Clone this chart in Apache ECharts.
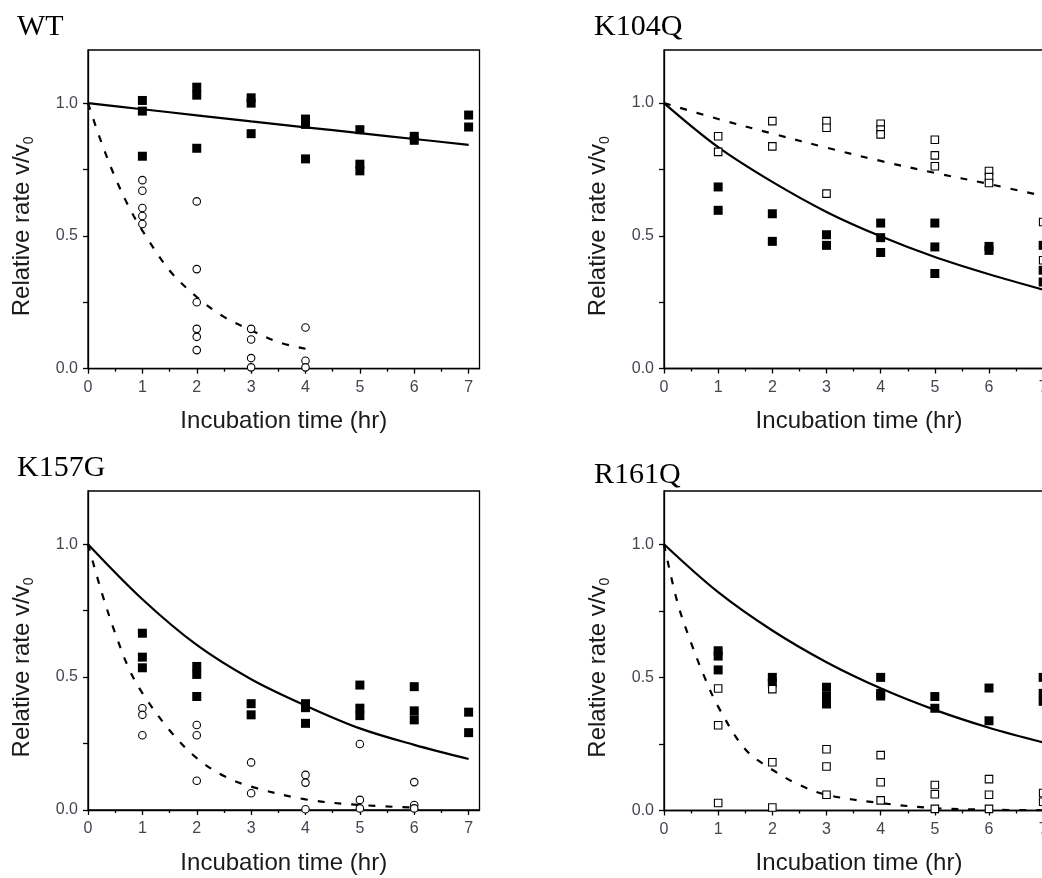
<!DOCTYPE html>
<html>
<head>
<meta charset="utf-8">
<script src="https://cdn.jsdelivr.net/npm/echarts@6/dist/echarts.min.js"></script>
<style>
html,body{margin:0;padding:0;background:#fff;}
#chart{width:1042px;height:878px;}
</style>
</head>
<body>
<div id="chart"></div>
<script>
// ---------------- data ----------------
const panelTitles = ['WT', 'K104Q', 'K157G', 'R161Q'];
const xTickValues = [0, 1, 2, 3, 4, 5, 6, 7];
const xMinorTickValues = [0.5, 1.5, 2.5, 3.5, 4.5, 5.5, 6.5];
const yTickValues = [0, 0.5, 1.0];
const yMinorTickValues = [0.25, 0.75];
const xAxisTitle = 'Incubation time (hr)';
const yAxisTitle = 'Relative rate v/v';
const yAxisSub = '0';

// WT
const wtFilled = [[1,1.01],[1,0.97],[1,0.80],[2,1.06],[2,1.03],[2,0.83],[3,1.02],[3,1.00],[3,0.885],
  [4,0.94],[4,0.92],[4,0.79],[5,0.90],[5,0.77],[5,0.745],[6,0.875],[6,0.86],[7,0.955],[7,0.91]];
const wtOpen = [[1,0.71],[1,0.67],[1,0.605],[1,0.575],[1,0.545],[2,0.63],[2,0.375],[2,0.25],[2,0.15],[2,0.12],[2,0.07],
  [3,0.15],[3,0.11],[3,0.04],[3,0.005],[4,0.155],[4,0.03],[4,0.005]];
const wtSolid = [[0,1.0],[1,0.977],[2,0.954],[3,0.931],[4,0.909],[5,0.887],[6,0.865],[7,0.843]];
const wtDashed = [[0,1.0],[0.25,0.85],[0.5,0.72],[0.75,0.61],[1,0.52],[1.5,0.37],[2,0.27],[2.5,0.195],[3,0.145],[3.5,0.10],[4,0.075]];

// K104Q
const k104Filled = [[1,0.684],[1,0.596],[2,0.583],[2,0.479],[3,0.504],[3,0.464],[4,0.548],[4,0.493],[4,0.437],
  [5,0.548],[5,0.458],[5,0.358],[6,0.46],[6,0.445],[7,0.464],[7,0.37],[7,0.326]];
const k104Open = [[1,0.875],[1,0.816],[2,0.932],[2,0.837],[3,0.932],[3,0.907],[3,0.659],[4,0.922],[4,0.90],[4,0.882],
  [5,0.862],[5,0.803],[5,0.762],[6,0.744],[6,0.721],[6,0.699],[7,0.552],[7,0.408]];
const k104Solid = [[0,1.0],[1,0.834],[2,0.703],[3,0.59],[4,0.498],[5,0.42],[6,0.355],[7,0.297]];
const k104Dashed = [[0,1.0],[1,0.94],[2,0.885],[3,0.832],[4,0.782],[5,0.737],[6,0.695],[7,0.65]];

// K157G
const k157Filled = [[1,0.665],[1,0.575],[1,0.535],[2,0.54],[2,0.51],[2,0.427],[3,0.40],[3,0.358],[4,0.40],[4,0.385],[4,0.326],
  [5,0.47],[5,0.383],[5,0.355],[6,0.464],[6,0.373],[6,0.339],[7,0.368],[7,0.291]];
const k157Open = [[1,0.383],[1,0.358],[1,0.281],[2,0.32],[2,0.281],[2,0.11],[3,0.179],[3,0.063],[4,0.132],[4,0.103],[4,0.003],
  [5,0.248],[5,0.038],[5,0.006],[6,0.105],[6,0.019],[6,0.006]];
const k157Solid = [[0,1.0],[1,0.793],[2,0.621],[3,0.492],[4,0.393],[5,0.307],[6,0.245],[7,0.192]];
const k157Dashed = [[0,1.0],[0.25,0.82],[0.5,0.665],[0.75,0.533],[1,0.44],[1.5,0.30],[2,0.195],[2.5,0.128],[3,0.088],[4,0.04],[5,0.019],[6,0.009]];

// R161Q
const r161Filled = [[1,0.60],[1,0.58],[1,0.528],[2,0.50],[2,0.48],[3,0.463],[3,0.43],[3,0.40],[4,0.50],[4,0.44],[4,0.43],
  [5,0.428],[5,0.384],[6,0.46],[6,0.337],[7,0.50],[7,0.44],[7,0.41]];
const r161Open = [[1,0.458],[1,0.32],[1,0.028],[2,0.456],[2,0.181],[2,0.011],[3,0.23],[3,0.165],[3,0.059],[4,0.208],[4,0.106],[4,0.038],
  [5,0.096],[5,0.061],[5,0.006],[6,0.118],[6,0.059],[6,0.006],[7,0.066],[7,0.033]];
const r161Solid = [[0,1.0],[1,0.82],[2,0.676],[3,0.557],[4,0.459],[5,0.378],[6,0.311],[7,0.256]];
const r161Dashed = [[0,1.0],[0.25,0.78],[0.5,0.63],[0.75,0.50],[1,0.39],[1.5,0.23],[2,0.153],[2.5,0.096],[3,0.059],[4,0.028],[5,0.009],[6,0.003],[7,0.001]];

// ---------------- layout & styling ----------------
const SANS = '"Liberation Sans", Arial, Helvetica, sans-serif';
const SERIF = '"Liberation Serif", "Times New Roman", serif';
const panels = [
  {title: panelTitles[0], filled: wtFilled, open: wtOpen, openSymbol: 'circle', solid: wtSolid, dashed: wtDashed,
   box: {left: 88, top: 50, width: 391.5, height: 318.7}, tx: 17, tBase: 39.5},
  {title: panelTitles[1], filled: k104Filled, open: k104Open, openSymbol: 'rect', solid: k104Solid, dashed: k104Dashed,
   box: {left: 664, top: 50, width: 390, height: 318.5}, tx: 594, tBase: 39.5},
  {title: panelTitles[2], filled: k157Filled, open: k157Open, openSymbol: 'circle', solid: k157Solid, dashed: k157Dashed,
   box: {left: 88, top: 491, width: 391.5, height: 319}, tx: 17, tBase: 480},
  {title: panelTitles[3], filled: r161Filled, open: r161Open, openSymbol: 'rect', solid: r161Solid, dashed: r161Dashed,
   box: {left: 664, top: 491, width: 390, height: 319.5}, tx: 594, tBase: 487}
];

const grids = [], xAxes = [], yAxes = [], series = [], graphics = [];
const axisLineStyle = {color: '#000', width: 1.3};

panels.forEach((p, i) => {
  grids.push(Object.assign({show: true, borderColor: '#000', borderWidth: 1.3, backgroundColor: 'transparent',
    containLabel: false, outerBoundsMode: 'none'}, p.box));
  // main x axis
  xAxes.push({gridIndex: i, type: 'value', min: 0, max: 7.2,
    axisLine: {show: true, onZero: false, lineStyle: axisLineStyle},
    axisTick: {show: true, inside: false, length: 5, customValues: xTickValues, lineStyle: axisLineStyle},
    axisLabel: {show: true, customValues: xTickValues, margin: 11, fontSize: 16, color: '#454550', fontFamily: SANS,
      formatter: v => String(v)},
    splitLine: {show: false},
    name: xAxisTitle, nameLocation: 'middle', nameGap: 41,
    nameTextStyle: {fontSize: 24, color: '#1a1a1a', fontFamily: SANS}
  });
  // minor x ticks
  xAxes.push({gridIndex: i, type: 'value', min: 0, max: 7.2, position: 'bottom',
    axisLine: {show: false, onZero: false},
    axisTick: {show: true, length: 3, customValues: xMinorTickValues, lineStyle: axisLineStyle},
    axisLabel: {show: false}, splitLine: {show: false}
  });
  // main y axis
  yAxes.push({gridIndex: i, type: 'value', min: 0, max: 1.2,
    axisLine: {show: true, onZero: false, lineStyle: axisLineStyle},
    axisTick: {show: true, inside: false, length: 5, customValues: yTickValues, lineStyle: axisLineStyle},
    axisLabel: {show: true, customValues: yTickValues, margin: 10, fontSize: 16, color: '#454550', fontFamily: SANS,
      formatter: v => Number(v).toFixed(1)},
    splitLine: {show: false},
    name: '{a|' + yAxisTitle + '}{s|' + yAxisSub + '}', nameLocation: 'middle', nameGap: 52, nameRotate: 90,
    nameTextStyle: {
      padding: [0, 34, 0, 0],
      rich: {
        a: {fontSize: 24, color: '#1a1a1a', fontFamily: SANS, lineHeight: 28, verticalAlign: 'middle'},
        s: {fontSize: 14, color: '#1a1a1a', fontFamily: SANS, lineHeight: 14, verticalAlign: 'bottom'}
      }
    }
  });
  // minor y ticks
  yAxes.push({gridIndex: i, type: 'value', min: 0, max: 1.2, position: 'left',
    axisLine: {show: false, onZero: false},
    axisTick: {show: true, length: 5, customValues: yMinorTickValues, lineStyle: axisLineStyle},
    axisLabel: {show: false}, splitLine: {show: false}
  });

  const xi = 2 * i, yi = 2 * i;
  series.push({type: 'line', xAxisIndex: xi, yAxisIndex: yi, data: p.solid, smooth: 0.35, symbol: 'none',
    lineStyle: {color: '#000', width: 2.2}, z: 2, silent: true});
  series.push({type: 'line', xAxisIndex: xi, yAxisIndex: yi, data: p.dashed, smooth: 0.35, symbol: 'none',
    lineStyle: {color: '#000', width: 2.2, type: [7, 10]}, z: 2, silent: true});
  series.push({type: 'scatter', xAxisIndex: xi, yAxisIndex: yi, data: p.filled, symbol: 'rect', symbolSize: 9,
    itemStyle: {color: '#000', opacity: 1}, z: 3, silent: true});
  series.push({type: 'scatter', xAxisIndex: xi, yAxisIndex: yi, data: p.open, symbol: p.openSymbol, symbolSize: 7.5,
    itemStyle: {color: '#fff', borderColor: '#000', borderWidth: 1.1, opacity: 1}, z: 4, silent: true});

  graphics.push({type: 'text', left: p.tx, top: p.tBase - 27, z: 10,
    style: {text: p.title, font: '30px ' + SERIF, fill: '#000'}});
});

const chart = echarts.init(document.getElementById('chart'), null, {renderer: 'canvas'});
chart.setOption({
  animation: false,
  backgroundColor: '#fff',
  grid: grids,
  xAxis: xAxes,
  yAxis: yAxes,
  series: series,
  graphic: graphics
});
</script>
</body>
</html>
